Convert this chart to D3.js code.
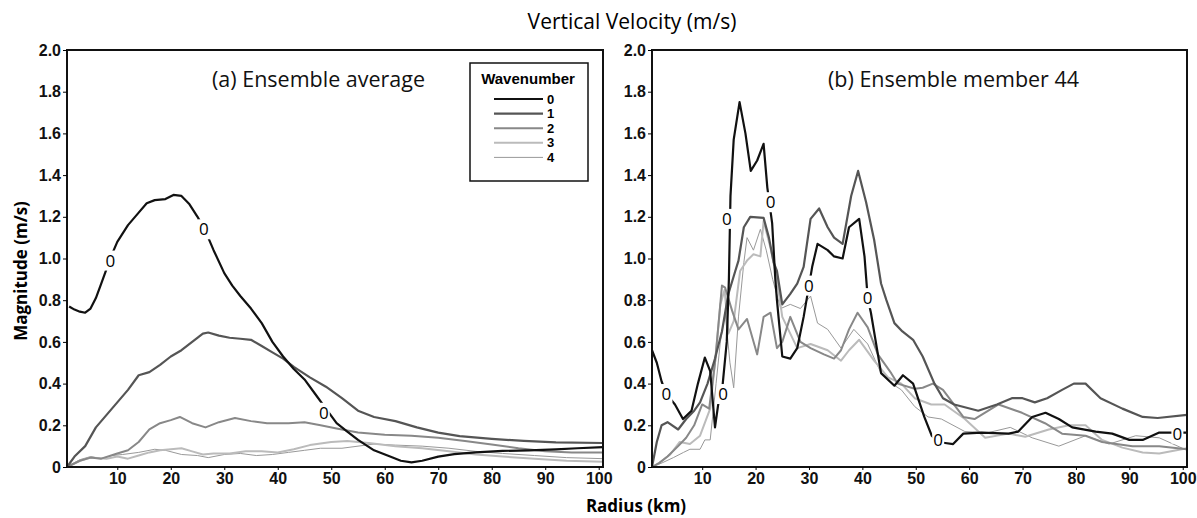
<!DOCTYPE html>
<html>
<head>
<meta charset="utf-8">
<script src="https://cdn.jsdelivr.net/npm/d3@7"></script>
<style>
  body { margin: 0; background: #fff; }
  .tick text { font-family: "Liberation Sans", Arial, sans-serif; font-weight: bold; font-size: 16px; fill: #111; }
  .lbl { font-family: "Open Sans", sans-serif; }
</style>
</head>
<body>
<svg width="1197" height="518"></svg>
<script>
// wavenumber series, [radius km, magnitude m/s]
var avg0 = [[1,0.77],[2,0.755],[3,0.745],[4,0.74],[5,0.76],[6,0.81],[7,0.88],[8,0.95],[9,1.02],[10,1.08],[12,1.16],[14,1.22],[15.5,1.265],[17,1.28],[19,1.285],[20.5,1.305],[22,1.3],[23.5,1.26],[25,1.2],[26.5,1.13],[28,1.04],[30,0.93],[31.5,0.87],[33,0.82],[35,0.76],[37,0.69],[39,0.6],[41,0.53],[43,0.47],[45,0.42],[47,0.35],[49,0.28],[51,0.21],[53,0.17],[55,0.13],[58,0.08],[61,0.05],[63,0.03],[65,0.022],[67,0.03],[70,0.05],[73,0.062],[77,0.07],[82,0.077],[87,0.08],[92,0.085],[96,0.09],[100.8,0.095]];
var avg1 = [[0.6,0],[2,0.05],[4,0.1],[6,0.19],[8,0.25],[10,0.31],[12,0.37],[14,0.44],[16,0.455],[18,0.49],[20,0.53],[22,0.56],[24,0.6],[26,0.64],[27,0.645],[29,0.63],[31,0.62],[33,0.615],[35,0.61],[37,0.58],[39,0.55],[41,0.52],[43,0.48],[46,0.43],[49,0.385],[52,0.33],[55,0.27],[58,0.24],[62,0.22],[66,0.19],[70,0.165],[74,0.148],[80,0.135],[86,0.125],[92,0.118],[100.8,0.115]];
var avg2 = [[0.6,0],[3,0.03],[5,0.045],[7,0.04],[10,0.065],[12,0.08],[14,0.12],[16,0.18],[18,0.21],[20,0.225],[21.7,0.24],[24,0.21],[26.5,0.19],[29,0.215],[32,0.235],[35,0.22],[38,0.21],[42,0.21],[45,0.215],[48,0.2],[51,0.185],[55,0.165],[60,0.155],[65,0.15],[70,0.14],[75,0.125],[80,0.108],[85,0.09],[90,0.075],[95,0.07],[100.8,0.07]];
var avg3 = [[0.6,0],[3,0.03],[5,0.045],[8,0.04],[10,0.05],[12,0.04],[14,0.055],[16,0.07],[18,0.08],[20,0.085],[22,0.09],[24,0.075],[26,0.06],[28,0.065],[31,0.065],[34,0.075],[37,0.075],[40,0.07],[43,0.085],[46,0.105],[50,0.12],[53,0.125],[57,0.115],[62,0.1],[67,0.09],[72,0.075],[77,0.06],[82,0.05],[88,0.04],[94,0.03],[100.8,0.025]];
var avg4 = [[0.6,0],[3,0.035],[5,0.05],[7,0.04],[9,0.055],[11,0.06],[14,0.07],[17,0.085],[19,0.08],[22,0.06],[25,0.055],[27,0.045],[30,0.06],[33,0.065],[36,0.055],[39,0.06],[42,0.07],[45,0.08],[48,0.09],[52,0.09],[55,0.1],[58,0.11],[62,0.105],[67,0.1],[72,0.09],[77,0.075],[82,0.065],[88,0.055],[94,0.045],[100.8,0.04]];

var mem0 = [[0.6,0.56],[1.5,0.5],[2.4,0.41],[3.3,0.35],[4.9,0.3],[6.4,0.23],[8,0.27],[9.2,0.4],[10.5,0.525],[11.5,0.46],[12.4,0.19],[13,0.3],[13.7,0.36],[14.6,0.6],[15,0.9],[15.3,1.3],[15.9,1.57],[17,1.75],[18.1,1.6],[19.1,1.42],[20.3,1.47],[21.5,1.55],[22.2,1.34],[23.1,1.17],[23.7,0.9],[24,0.8],[25,0.53],[26.5,0.52],[27.8,0.57],[29,0.72],[30,0.87],[30.6,0.96],[31.6,1.07],[33.5,1.04],[34.7,1.01],[36.3,1.0],[37.5,1.15],[39.4,1.19],[40.4,1.01],[41,0.81],[41.6,0.74],[43.5,0.45],[46,0.39],[47.6,0.44],[49.5,0.4],[51.6,0.24],[53,0.15],[54.2,0.12],[55.5,0.115],[57,0.11],[58.9,0.16],[62.3,0.165],[67.4,0.16],[69.2,0.17],[71.8,0.24],[74.3,0.26],[76.8,0.23],[79.3,0.19],[83.7,0.17],[86.8,0.16],[90,0.13],[92.5,0.13],[95.6,0.165],[99,0.165],[100.8,0.165]];
var mem1 = [[0.6,0],[1.5,0.12],[2.4,0.2],[3.5,0.215],[5.5,0.18],[7,0.23],[8.5,0.27],[9.6,0.31],[11,0.4],[12.4,0.52],[13.7,0.65],[14.9,0.83],[16.2,0.94],[16.8,0.99],[17.8,1.15],[19,1.2],[21.5,1.195],[22.5,1.1],[23.4,0.98],[24,0.94],[25,0.78],[26.5,0.83],[27.8,0.88],[29,0.96],[30.3,1.19],[31.9,1.24],[33.5,1.15],[34.7,1.1],[36.3,1.07],[37.9,1.3],[39.2,1.42],[40.7,1.27],[42.2,1.09],[43.5,0.88],[44.5,0.8],[46,0.69],[47.5,0.65],[49.5,0.61],[51.3,0.53],[53.5,0.4],[55.1,0.33],[57.2,0.3],[61.7,0.27],[65.2,0.3],[68,0.33],[70,0.33],[72.3,0.31],[74.6,0.33],[77.4,0.37],[79.6,0.4],[81.8,0.4],[84.6,0.33],[88.7,0.28],[92.5,0.24],[95.3,0.235],[100.8,0.25]];
var mem2 = [[0.6,0],[2,0.02],[3.5,0.05],[5.5,0.1],[7,0.14],[8.5,0.2],[10,0.3],[11.3,0.28],[12.4,0.5],[13.7,0.87],[14.3,0.86],[15.6,0.75],[16.8,0.66],[18.4,0.71],[20.3,0.54],[21.5,0.72],[22.8,0.74],[24,0.57],[25,0.6],[26.5,0.72],[28.4,0.6],[30.3,0.57],[32.8,0.54],[34.7,0.52],[36,0.56],[37.5,0.66],[39.1,0.74],[41,0.67],[42.9,0.54],[45.4,0.45],[46.6,0.4],[49.8,0.375],[51.3,0.38],[53.2,0.4],[55.1,0.37],[58.9,0.24],[61,0.23],[65.5,0.3],[69.9,0.26],[74.2,0.21],[77.4,0.16],[81.8,0.15],[84.9,0.12],[90.6,0.1],[95.6,0.1],[100.8,0.085]];
var mem3 = [[0.6,0],[2,0.02],[4,0.06],[5.8,0.12],[7.7,0.11],[9.6,0.15],[11.5,0.28],[12.6,0.55],[13.4,0.78],[14.2,0.85],[14.9,0.64],[15.9,0.7],[17.1,0.94],[18.4,0.99],[19.6,1.02],[20.9,1.01],[21.5,1.18],[22.8,1.05],[24,0.9],[25,0.72],[26.5,0.64],[27.8,0.57],[30.3,0.59],[33.5,0.56],[36,0.51],[37.5,0.56],[39.4,0.61],[42.2,0.51],[44.8,0.43],[47.3,0.4],[49.8,0.33],[52.9,0.3],[55.4,0.3],[59.2,0.23],[63,0.14],[67.4,0.16],[70.5,0.145],[74.9,0.18],[78.7,0.2],[81.8,0.2],[84.9,0.13],[88.7,0.093],[92.5,0.07],[95.6,0.065],[100.8,0.09]];
var mem4 = [[0.6,0],[2.5,0.02],[4.6,0.045],[6.5,0.07],[7.7,0.085],[9.6,0.085],[10.5,0.13],[11.5,0.13],[12.6,0.4],[13.4,0.6],[14.3,0.74],[15.2,0.5],[15.9,0.38],[16.8,0.72],[17.8,0.98],[18.4,1.1],[19.6,1.04],[20.9,1.14],[22,1.04],[23.2,0.9],[24.7,0.76],[26.5,0.78],[28.4,0.76],[30.3,0.82],[31.6,0.69],[33.5,0.66],[36,0.57],[38.4,0.66],[41,0.59],[43.5,0.45],[45.5,0.4],[47.3,0.37],[49.8,0.29],[52.3,0.24],[54.8,0.23],[59.2,0.17],[63.6,0.165],[67.7,0.19],[71.8,0.14],[76.8,0.1],[81.8,0.15],[86.2,0.11],[91.2,0.15],[95.6,0.14],[100.8,0.08]];

// where the "0" contour labels sit on the wavenumber 0 curve
var avgLabels = [[8.7,0.99],[26.2,1.14],[48.6,0.26]];
var memLabels = [[3.3,0.35],[13.9,0.35],[14.6,1.19],[22.8,1.27],[30,0.87],[41,0.81],[54.2,0.13],[99,0.16]];

var waveNames = ['0','1','2','3','4'];
var yTicks = [0,0.2,0.4,0.6,0.8,1.0,1.2,1.4,1.6,1.8,2.0];
var xTicks = [10,20,30,40,50,60,70,80,90,100];

var waveColor = ['#111','#555','#888','#bbb','#999'];
var waveWidth = [2.2,2.2,2,2,1];

var svg = d3.select('svg');

var y = d3.scaleLinear().domain([0,2]).range([467,50]);

function panel(x0, x1, series, labels, title, titleX) {
    var x = d3.scaleLinear().domain([0.6,100.8]).range([x0,x1]);
    var g = svg.append('g');

    var line = d3.line()
        .x(function(d){ return x(d[0]); })
        .y(function(d){ return y(d[1]); });

    for (var i = series.length - 1; i >= 0; i--) {
        g.append('path')
            .datum(series[i])
            .attr('d', line)
            .attr('fill','none')
            .attr('stroke', waveColor[i])
            .attr('stroke-width', waveWidth[i])
            .attr('stroke-linejoin','round');
    }

    // contour labels: white patch cuts the curve, then the "0"
    var cl = g.selectAll('.clab')
        .data(labels)
        .enter()
        .append('g')
        .attr('transform', function(d){ return 'translate(' + x(d[0]) + ',' + y(d[1]) + ')'; });
    cl.append('rect')
        .attr('x',-6).attr('y',-10).attr('width',12).attr('height',20)
        .attr('fill','#fff');
    cl.append('text')
        .attr('class','lbl')
        .attr('dy','0.36em')
        .attr('text-anchor','middle')
        .attr('font-size',17)
        .attr('fill','#000')
        .text('0');

    g.append('rect')
        .attr('x', x0).attr('y', 50)
        .attr('width', x1 - x0).attr('height', 417)
        .attr('fill','none').attr('stroke','#111').attr('stroke-width',2);

    var ya = g.append('g')
        .attr('transform','translate(' + x0 + ',0)')
        .call(d3.axisLeft(y).tickValues(yTicks).tickSize(4).tickPadding(2)
            .tickFormat(function(d){ return d === 0 ? '0' : d3.format('.1f')(d); }));
    ya.select('.domain').remove();

    var xa = g.append('g')
        .attr('transform','translate(0,467)')
        .call(d3.axisBottom(x).tickValues(xTicks).tickSize(3).tickPadding(3));
    xa.select('.domain').remove();

    g.append('text')
        .attr('class','lbl')
        .attr('x', titleX)
        .attr('y', 87)
        .attr('font-size',21.5)
        .attr('fill','#111')
        .text(title);
}

panel(67, 603, [avg0,avg1,avg2,avg3,avg4], avgLabels, '(a) Ensemble average', 212);
panel(652, 1187, [mem0,mem1,mem2,mem3,mem4], memLabels, '(b) Ensemble member 44', 828);

// legend
var lg = svg.append('g');
lg.append('rect')
    .attr('x',470).attr('y',63).attr('width',118).attr('height',118)
    .attr('fill','#fff').attr('stroke','#111').attr('stroke-width',1.5);
lg.append('text')
    .attr('x',528).attr('y',84)
    .attr('text-anchor','middle')
    .attr('font-family','"Liberation Sans", Arial, sans-serif')
    .attr('font-weight','bold').attr('font-size',15)
    .text('Wavenumber');
waveNames.forEach(function(n, i){
    var yy = 99 + i * 14.6;
    lg.append('line')
        .attr('x1',494).attr('x2',543).attr('y1',yy).attr('y2',yy)
        .attr('stroke', waveColor[i]).attr('stroke-width', waveWidth[i]);
    lg.append('text')
        .attr('x',547).attr('y',yy).attr('dy','0.36em')
        .attr('font-family','"Liberation Sans", Arial, sans-serif')
        .attr('font-weight','bold').attr('font-size',13)
        .text(n);
});

svg.append('text')
    .attr('class','lbl')
    .attr('x',632).attr('y',29)
    .attr('text-anchor','middle')
    .attr('font-size',21)
    .text('Vertical Velocity (m/s)');

svg.append('text')
    .attr('class','lbl')
    .attr('x',636).attr('y',512)
    .attr('text-anchor','middle')
    .attr('font-weight','bold').attr('font-size',17)
    .text('Radius (km)');

svg.append('text')
    .attr('class','lbl')
    .attr('transform','translate(27,271) rotate(-90)')
    .attr('text-anchor','middle')
    .attr('font-weight','bold').attr('font-size',17)
    .text('Magnitude (m/s)');
</script>
</body>
</html>
